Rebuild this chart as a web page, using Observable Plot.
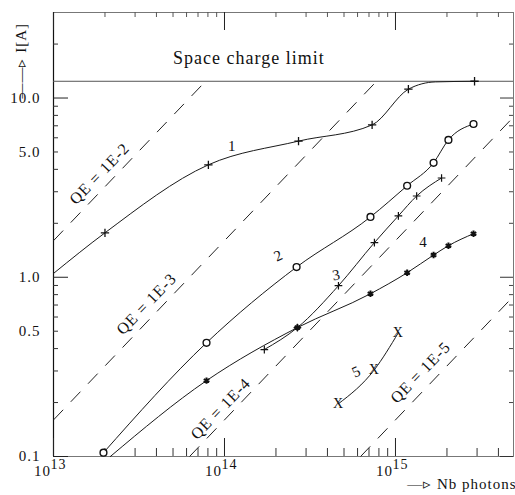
<!DOCTYPE html>
<html><head><meta charset="utf-8">
<script src="https://cdn.jsdelivr.net/npm/d3@7"></script>
<script src="https://cdn.jsdelivr.net/npm/@observablehq/plot@0.6"></script>
<style>
body{margin:0;background:#fff;}
svg{display:block;}
svg text{letter-spacing:1px;}
</style>
</head><body><div id="chart"></div>
<script>
// ---- data ----
const curve1X = [1e13, 2.0e13, 8.05e13, 2.71e14, 7.3e14, 1.19e15, 1.71e15, 2.9e15];
const curve1Y = [1.05, 1.77, 4.24, 5.75, 7.08, 11.2, 12.3, 12.4];
const curve1Marked = [false, true, true, true, true, true, false, true];

const curve2X = [1.96e13, 7.85e13, 2.64e14, 7.14e14, 1.17e15, 1.67e15, 2.04e15, 2.86e15];
const curve2Y = [0.105, 0.431, 1.14, 2.17, 3.24, 4.35, 5.84, 7.16];

const curve3X = [1.71e14, 2.67e14, 4.64e14, 7.53e14, 1.04e15, 1.33e15, 1.86e15];
const curve3Y = [0.395, 0.524, 0.897, 1.56, 2.20, 2.84, 3.58];

const curve4X = [2.15e13, 7.85e13, 2.67e14, 7.14e14, 1.17e15, 1.67e15, 2.04e15, 2.86e15];
const curve4Y = [0.1, 0.265, 0.524, 0.809, 1.06, 1.33, 1.50, 1.75];
const curve4Marked = [false, true, true, true, true, true, true, true];

const curve5X = [4.64e14, 7.53e14, 1.04e15];
const curve5Y = [0.197, 0.305, 0.491];

const curveLabels = ["1", "2", "3", "4", "5"];
const curveLabelX = [1.11e14, 2.07e14, 4.52e14, 1.46e15, 5.92e14];
const curveLabelY = [5.41, 1.32, 1.03, 1.56, 0.298];
const curveLabelRotate = [0, -25, -10, 0, -25];

const qeNames = ["QE = 1E-2", "QE = 1E-3", "QE = 1E-4", "QE = 1E-5"];
const qeX1 = [1e13, 1e13, 6.25e13, 6.25e14];
const qeY1 = [1.6, 0.16, 0.1, 0.1];
const qeX2 = [7.75e13, 7.75e14, 4.9e15, 4.9e15];
const qeY2 = [12.4, 12.4, 7.84, 0.784];
const qeLabelX = [1.86e13, 3.5e13, 9.5e13, 1.4e15];
const qeLabelY = [3.78, 0.71, 0.185, 0.294];

const spaceChargeLimit = 12.4;
const spaceLabel = "Space charge limit";
const spaceLabelX = 5e13;
const spaceLabelY = 16.7;

const xDomain = [1e13, 4.9e15];
const yDomain = [0.1, 30];
const xMajor = [1e13, 1e14, 1e15];
const xMajorBase = ["10", "10", "10"];
const xMajorExp = ["13", "14", "15"];
const xMinor = [2e13,3e13,4e13,5e13,6e13,7e13,8e13,9e13,
                2e14,3e14,4e14,5e14,6e14,7e14,8e14,9e14,
                2e15,3e15,4e15];
const yMajor = [0.1, 1, 10];
const yMinor = [0.2,0.3,0.4,0.5,0.6,0.7,0.8,0.9,2,3,4,5,6,7,8,9,20];
const yLabelValues = [0.1, 0.5, 1, 5, 10];
const yLabelTexts = ["0.1", "0.5", "1.0", "5.0", "10.0"];
const yAxisLabel = "——▹ I[A]";
const xAxisLabel = "—▹ Nb photons";

// ---- build ----
const W = 515, H = 495;
const mL = 53, mT = 12, mB = 39, mR = 2;
const innerH = H - mT - mB, innerW = W - mL - mR;
const serif = "'Liberation Serif', 'Times New Roman', serif";

const rows = (xs, ys, ms) => xs.map((x, i) => ({x, y: ys[i], m: ms ? ms[i] : true}));
const c1 = rows(curve1X, curve1Y, curve1Marked);
const c2 = rows(curve2X, curve2Y);
const c3 = rows(curve3X, curve3Y);
const c4 = rows(curve4X, curve4Y, curve4Marked);
const c5 = rows(curve5X, curve5Y);
const qe = qeNames.map((n, i) => ({n, x1: qeX1[i], y1: qeY1[i], x2: qeX2[i], y2: qeY2[i], lx: qeLabelX[i], ly: qeLabelY[i]}));
const labs = curveLabels.map((t, i) => ({t, x: curveLabelX[i], y: curveLabelY[i], r: curveLabelRotate[i]}));
const yl = yLabelValues.map((v, i) => ({v, t: yLabelTexts[i]}));
const xl = xMajor.map((v, i) => ({v, b: xMajorBase[i], e: xMajorExp[i]}));

const lineOpts = {x: "x", y: "y", curve: "monotone-x", stroke: "#1a1a1a", strokeWidth: 1};

const chart = Plot.plot({
  width: W, height: H,
  marginLeft: mL, marginTop: mT, marginBottom: mB, marginRight: mR,
  x: {type: "log", domain: xDomain, axis: null},
  y: {type: "log", domain: yDomain, axis: null},
  style: {background: "#fff"},
  marks: [
    Plot.frame({stroke: "#777", strokeWidth: 1}),
    Plot.ruleX([xDomain[0]], {stroke: "#111", strokeWidth: 1.2}),
    // bottom ticks (inward)
    Plot.ruleX(xMinor, {insetTop: innerH - 8, stroke: "#333"}),
    Plot.ruleX(xMajor, {insetTop: innerH - 18, stroke: "#222"}),
    // top ticks (inward)
    Plot.ruleX(xMinor, {insetBottom: innerH - 5, stroke: "#555"}),
    Plot.ruleX(xMajor, {insetBottom: innerH - 18, stroke: "#222"}),
    // left ticks
    Plot.ruleY(yMinor, {insetRight: innerW - 5, stroke: "#333"}),
    Plot.ruleY(yMajor, {insetRight: innerW - 15, stroke: "#222"}),
    // right ticks
    Plot.ruleY(yMinor, {insetLeft: innerW - 4, stroke: "#444"}),
    Plot.ruleY(yMajor, {insetLeft: innerW - 13, stroke: "#333"}),
    // space charge limit
    Plot.ruleY([spaceChargeLimit], {stroke: "#555", strokeWidth: 1}),
    Plot.text([spaceLabel], {x: () => spaceLabelX, y: () => spaceLabelY, text: d => d, textAnchor: "start", fontSize: 18, fontFamily: serif, fill: "#111"}),
    // QE lines
    Plot.link(qe, {x1: "x1", y1: "y1", x2: "x2", y2: "y2", stroke: "#222", strokeWidth: 1, strokeDasharray: "14,11"}),
    Plot.text(qe, {x: "lx", y: "ly", text: "n", rotate: -46, fontSize: 16, fontFamily: serif, fill: "#111"}),
    // curves
    Plot.line(c1, lineOpts),
    Plot.line(c2, lineOpts),
    Plot.line(c3, lineOpts),
    Plot.line(c4, lineOpts),
    Plot.line(c5, lineOpts),
    // markers
    Plot.dot(c1.filter(d => d.m), {x: "x", y: "y", symbol: "plus", r: 2.8, stroke: "#111", strokeWidth: 1.3}),
    Plot.dot(c2, {x: "x", y: "y", symbol: "circle", r: 3.4, stroke: "#111", fill: "#fff", strokeWidth: 1.4}),
    Plot.dot(c3, {x: "x", y: "y", symbol: "plus", r: 2.6, stroke: "#111", strokeWidth: 1.2}),
    Plot.dot(c4.filter(d => d.m), {x: "x", y: "y", symbol: "asterisk", r: 3, stroke: "#111", strokeWidth: 2}),
    Plot.text(c5, {x: "x", y: "y", text: () => "X", fontSize: 14, fontFamily: serif, fill: "#111"}),
    // curve labels
    Plot.text(labs, {x: "x", y: "y", text: "t", rotate: "r", fontSize: 15, fontFamily: serif, fill: "#111"}),
    // tick labels
    Plot.text(yl, {y: "v", text: "t", frameAnchor: "left", dx: -13, textAnchor: "end", fontSize: 15, fontFamily: serif, fill: "#111"}),
    Plot.text(xl, {x: "v", text: "b", frameAnchor: "bottom", dx: -11, dy: 19, fontSize: 15, fontFamily: serif, fill: "#111"}),
    Plot.text(xl, {x: "v", text: "e", frameAnchor: "bottom", dx: 5, dy: 12, fontSize: 14, fontFamily: serif, fill: "#111"}),
    // axis labels
    Plot.text([yAxisLabel], {text: d => d, frameAnchor: "top-left", dx: -38, dy: 86, rotate: -90, textAnchor: "start", fontSize: 15, fontFamily: serif, fill: "#111"}),
    Plot.text([xAxisLabel], {text: d => d, frameAnchor: "bottom-right", dx: 3, dy: 32, textAnchor: "end", fontSize: 15, fontFamily: serif, fill: "#111"})
  ]
});
document.getElementById("chart").appendChild(chart);
</script>
</body></html>
